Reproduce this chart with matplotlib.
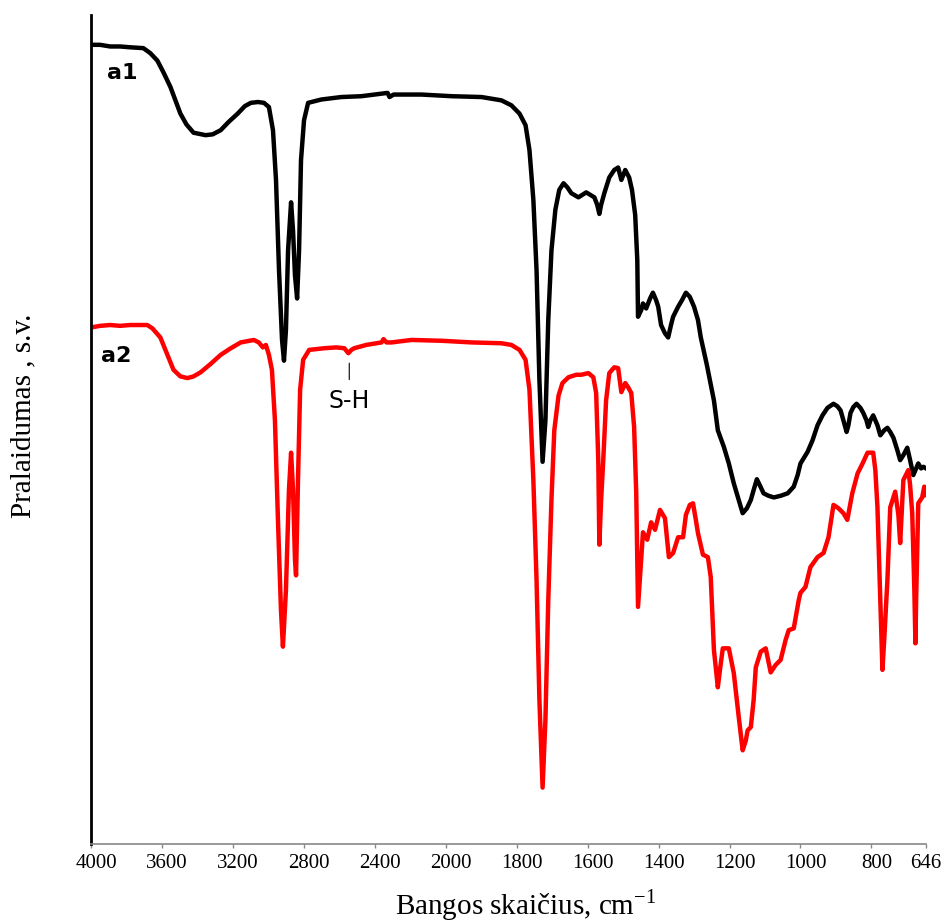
import numpy as np
import matplotlib
matplotlib.use("Agg")
import matplotlib.pyplot as plt
from matplotlib.transforms import ScaledTranslation

# a1 spectrum (black)
w_a1 = [4000, 3949, 3892, 3836, 3779, 3705, 3666, 3626, 3592, 3552, 3524, 3496, 3462, 3422,
        3354, 3314, 3269, 3224, 3173, 3133, 3099, 3059, 3025, 2997, 2974, 2957, 2940, 2923,
        2912, 2901, 2889, 2872, 2861, 2850, 2838, 2827, 2816, 2799, 2776, 2702, 2589, 2476,
        2362, 2328, 2317, 2294, 2136, 1983, 1899, 1843, 1815, 1792, 1775, 1764, 1753, 1744,
        1736, 1727, 1719, 1711, 1702, 1691, 1680, 1668, 1657, 1646, 1626, 1604, 1581, 1573,
        1567, 1562, 1553, 1539, 1525, 1514, 1505, 1494, 1483, 1475, 1466, 1460, 1458, 1449,
        1444, 1435, 1424, 1416, 1407, 1401, 1393, 1382, 1373, 1365, 1359, 1345, 1334, 1323,
        1312, 1300, 1289, 1281, 1264, 1244, 1233, 1216, 1202, 1188, 1174, 1163, 1151, 1140,
        1132, 1123, 1115, 1104, 1090, 1075, 1056, 1036, 1019, 1008, 1000, 980, 966, 952, 938,
        924, 907, 896, 887, 879, 870, 865, 859, 851, 842, 831, 823, 814, 809, 803, 795, 783,
        775, 764, 755, 747, 738, 727, 719, 710, 699, 691, 682, 674, 668, 660, 654, 646]
t_a1 = [96.4, 96.4, 96.2, 96.2, 96.1, 96.0, 95.4, 94.5, 93.1, 91.3, 89.7, 88.1, 86.8, 85.8,
        85.5, 85.6, 86.1, 87.1, 88.1, 89.0, 89.4, 89.5, 89.4, 88.9, 86.1, 80.1, 69.2, 60.8,
        58.3, 62.0, 71.6, 77.4, 74.0, 68.6, 65.8, 71.6, 82.5, 87.3, 89.4, 89.8, 90.1, 90.2,
        90.5, 90.6, 90.1, 90.4, 90.4, 90.2, 90.1, 89.7, 89.1, 88.1, 86.7, 83.7, 77.7, 69.2,
        56.0, 46.1, 51.1, 63.2, 71.6, 76.5, 78.9, 79.7, 79.2, 78.5, 78.0, 78.6, 78.0, 77.1,
        76.0, 77.1, 78.5, 80.4, 81.3, 81.6, 80.1, 81.3, 80.4, 78.9, 75.9, 70.4, 63.6, 64.4,
        65.2, 64.6, 65.8, 66.5, 65.6, 64.8, 62.6, 61.6, 61.1, 62.6, 63.6, 64.8, 65.6, 66.5,
        66.0, 64.8, 63.2, 61.1, 57.8, 53.5, 49.9, 47.9, 45.9, 43.5, 41.5, 39.9, 40.5, 41.5,
        42.7, 44.0, 43.3, 42.3, 42.0, 41.8, 42.0, 42.3, 43.1, 44.5, 45.9, 47.3, 48.7, 50.5, 51.7,
        52.6, 53.1, 52.8, 52.3, 51.1, 49.7, 50.5, 52.0, 52.7, 53.1, 52.6, 52.0, 51.1, 50.3, 51.1,
        51.7, 50.5, 49.3, 49.9, 50.2, 49.7, 49.0, 47.5, 46.3, 46.9, 47.8, 46.3, 44.5, 45.3, 45.9,
        45.3, 45.5, 45.3]

# a2 spectrum (red)
w_a2 = [4000, 3949, 3892, 3836, 3779, 3683, 3654, 3609, 3575, 3535, 3496, 3456, 3422, 3382,
        3326, 3269, 3212, 3156, 3082, 3054, 3031, 3014, 2997, 2980, 2963, 2946, 2929, 2918,
        2901, 2884, 2872, 2861, 2850, 2844, 2833, 2821, 2804, 2770, 2685, 2617, 2572, 2549,
        2532, 2516, 2448, 2362, 2351, 2334, 2306, 2193, 2023, 1927, 1843, 1815, 1792, 1775,
        1764, 1753, 1744, 1736, 1727, 1719, 1711, 1702, 1694, 1682, 1671, 1654, 1632, 1618,
        1598, 1584, 1576, 1570, 1567, 1562, 1556, 1548, 1539, 1525, 1514, 1505, 1494, 1486,
        1477, 1469, 1463, 1458, 1449, 1444, 1432, 1421, 1410, 1396, 1382, 1371, 1359, 1345,
        1331, 1323, 1312, 1303, 1295, 1289, 1275, 1261, 1253, 1244, 1233, 1227, 1219, 1202,
        1188, 1174, 1163, 1154, 1149, 1140, 1132, 1126, 1112, 1098, 1084, 1070, 1056, 1042,
        1033, 1019, 1005, 1000, 986, 972, 952, 935, 921, 907, 893, 879, 868, 854, 839, 825,
        811, 795, 789, 783, 775, 769, 764, 755, 747, 733, 724, 719, 710, 696, 691, 685, 679,
        676, 674, 668, 657, 651, 646]
t_a2 = [62.3, 62.5, 62.6, 62.5, 62.6, 62.6, 62.2, 61.1, 59.3, 57.2, 56.4, 56.2, 56.4, 56.9,
        57.9, 59.0, 59.8, 60.5, 60.8, 60.5, 59.9, 60.2, 59.0, 57.2, 51.1, 39.1, 28.2, 23.8,
        30.6, 42.7, 47.2, 42.7, 34.3, 32.4, 43.9, 54.8, 58.4, 59.6, 59.8, 59.9, 59.8, 59.2,
        59.6, 59.8, 60.2, 60.5, 60.9, 60.5, 60.5, 60.8, 60.7, 60.5, 60.4, 60.2, 59.6, 58.4,
        54.8, 43.9, 31.8, 17.4, 6.8, 15.0, 29.4, 41.5, 49.9, 54.1, 55.6, 56.3, 56.6, 56.6,
        56.8, 56.3, 54.4, 46.3, 36.1, 41.5, 46.3, 53.5, 56.8, 57.5, 57.4, 54.5, 55.6, 55.1,
        54.4, 50.3, 42.3, 28.6, 34.3, 37.6, 36.7, 38.8, 37.9, 40.3, 39.3, 34.6, 35.1, 37.0,
        37.0, 39.7, 40.9, 41.1, 39.1, 37.5, 34.9, 34.6, 32.2, 23.4, 18.9, 21.0, 23.6, 23.6,
        20.6, 15.3, 11.3, 12.5, 13.7, 14.1, 17.4, 21.3, 23.2, 23.6, 20.7, 21.6, 22.2, 24.6,
        25.8, 26.0, 29.4, 30.3, 31.0, 33.4, 34.6, 35.1, 37.0, 40.9, 40.5, 39.9, 39.1, 42.3,
        44.7, 45.9, 47.2, 47.2, 45.1, 40.6, 29.4, 21.0, 24.6, 31.8, 40.6, 42.5, 39.7, 36.3,
        43.9, 45.1, 43.3, 39.9, 30.6, 24.2, 29.4, 41.1, 41.8, 43.1, 42.1]

ticks = [4000, 3600, 3200, 2800, 2400, 2000, 1800, 1600, 1400, 1200, 1000, 800, 646]


# scale changes at 2000 cm-1 (400 per division above, 200 below)
def fwd(w):
    w = np.asarray(w, dtype=float)
    return np.where(w >= 2000, w / 400.0, w / 200.0 - 5.0)


def inv(u):
    u = np.asarray(u, dtype=float)
    return np.where(u >= 5, u * 400.0, (u + 5.0) * 200.0)


fig = plt.figure(figsize=(9.44, 9.24), dpi=100)
ax = fig.add_axes([0.0964, 0.0866, 0.8846, 0.8972])

ax.plot(w_a1, t_a1, color="black", lw=3.2, solid_joinstyle="round")
ax.plot(w_a2, t_a2, color="red", lw=3.2, solid_joinstyle="round")

ax.set_xscale("function", functions=(fwd, inv))
ax.set_xlim(4000, 646)
ax.set_ylim(0, 100)
ax.set_xticks(ticks)
ax.set_xticklabels([str(t) for t in ticks], fontfamily="Liberation Serif", fontsize=15)
ax.minorticks_off()
ax.set_yticks([])
ax.tick_params(axis="x", direction="out", length=3, width=1, color="#888888", pad=4)
off = ScaledTranslation(5 / 100, 0, fig.dpi_scale_trans)
for lab in ax.get_xticklabels()[:-1]:
    lab.set_transform(lab.get_transform() + off)

ax.spines["top"].set_visible(False)
ax.spines["right"].set_visible(False)
ax.spines["left"].set_linewidth(2)
ax.spines["bottom"].set_color("#888888")
ax.spines["bottom"].set_linewidth(1.2)

ax.text(3824, 93.0, "a1", fontsize=16, fontweight="bold", ha="center", va="center",
        family="DejaVu Sans")
ax.text(3858, 58.9, "a2", fontsize=16, fontweight="bold", ha="center", va="center",
        family="DejaVu Sans")
ax.annotate("S-H", xy=(2544, 58.0), xytext=(2544, 53.4), ha="center", va="center",
            fontsize=17, family="DejaVu Sans",
            arrowprops=dict(arrowstyle="-", color="black", lw=0.8, shrinkA=5, shrinkB=0))

fig.text(0.557, 0.0105, r"Bangos skaičius, cm$^{\mathregular{-1}}$", fontsize=21,
         family="Liberation Serif", ha="center", va="baseline")
fig.text(0.025, 0.55, "Pralaidumas , s.v.", fontsize=21, family="Liberation Serif",
         rotation=90, ha="center", va="center")

fig.savefig("out.png", dpi=100)
